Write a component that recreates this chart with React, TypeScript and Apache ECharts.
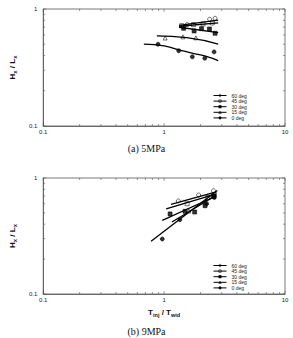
import React, { useEffect, useRef } from "react";
import * as echarts from "echarts";

const NAMES = ["60 deg", "45 deg", "30 deg", "15 deg", "0 deg"];
const SYMBOLS = ["circle", "rect", "rect", "triangle", "circle"];
const HOLLOW = [true, true, false, true, false];

// (a) 5MPa — fitted curves
const aFit60 = [[1.33, 0.725], [2.8, 0.805]];
const aFit45 = [[1.33, 0.712], [2.8, 0.76]];
const aFit30 = [[1.33, 0.698], [2.8, 0.628]];
const aFit15 = [[0.87, 0.59], [1.54, 0.569], [2.8, 0.502]];
const aFit0 = [[0.68, 0.5], [1.0, 0.483], [1.33, 0.448], [1.7, 0.42], [2.2, 0.395], [2.8, 0.362]];
// (a) 5MPa — measured points
const aPts60 = [[1.55, 0.735], [2.38, 0.817], [2.64, 0.833]];
const aPts45 = [[1.4, 0.72], [1.75, 0.735], [2.1, 0.745], [2.5, 0.76]];
const aPts30 = [[1.45, 0.684], [1.77, 0.649], [2.04, 0.679], [2.37, 0.675], [2.64, 0.62]];
const aPts15 = [[1.02, 0.565], [1.43, 0.578], [1.83, 0.567]];
const aPts0 = [[0.89, 0.5], [1.32, 0.44], [1.71, 0.39], [2.17, 0.38], [2.59, 0.43]];

// (b) 9MPa — fitted curves
const bFit60 = [[1.14, 0.592], [2.7, 0.76]];
const bFit45 = [[1.04, 0.543], [2.7, 0.73]];
const bFit30 = [[0.965, 0.431], [2.7, 0.7]];
const bFit15 = [[1.16, 0.418], [2.7, 0.71]];
const bFit0 = [[0.78, 0.285], [2.75, 0.78]];
// (b) 9MPa — measured points
const bPts60 = [[1.31, 0.634], [1.93, 0.714], [2.56, 0.777]];
const bPts45 = [[1.55, 0.6], [2.3, 0.68], [2.6, 0.72]];
const bPts30 = [[1.12, 0.49], [1.49, 0.516], [1.79, 0.509], [2.18, 0.577], [2.56, 0.694]];
const bPts15 = [[1.6, 0.52], [2.2, 0.62], [2.6, 0.7]];
const bPts0 = [[0.965, 0.298], [1.35, 0.437], [2.25, 0.6], [2.6, 0.68]];

const X_MINOR = [0.2, 0.3, 0.4, 0.5, 0.6, 0.7, 0.8, 0.9, 2, 3, 4, 5, 6, 7, 8, 9];
const X_MAJOR = [0.1, 1, 10];
const Y_MINOR = [0.2, 0.3, 0.4, 0.5, 0.6, 0.7, 0.8, 0.9];
const Y_MAJOR = [0.1, 1];

const FONT = "Liberation Sans";

export default function App() {
  const ref = useRef<HTMLDivElement>(null);
  useEffect(() => {
    const chart = echarts.init(ref.current!, null, { renderer: "svg" });

    const fits = [
      [aFit60, aFit45, aFit30, aFit15, aFit0],
      [bFit60, bFit45, bFit30, bFit15, bFit0],
    ];
    const pts = [
      [aPts60, aPts45, aPts30, aPts15, aPts0],
      [bPts60, bPts45, bPts30, bPts15, bPts0],
    ];

    const series: any[] = [];
    [0, 1].forEach((g) => {
      NAMES.forEach((name, i) => {
        const mstyle = {
          color: HOLLOW[i] ? "rgba(255,255,255,0)" : "#000",
          borderColor: "#000",
          borderWidth: 0.7,
        };
        series.push({
          type: "line",
          name,
          xAxisIndex: g,
          yAxisIndex: g,
          data: fits[g][i],
          smooth: true,
          symbol: SYMBOLS[i],
          symbolSize: 3,
          showSymbol: false,
          lineStyle: { color: "#000", width: 1.3 },
          itemStyle: mstyle,
          z: 3,
        });
        series.push({
          type: "scatter",
          name,
          xAxisIndex: g,
          yAxisIndex: g,
          data: pts[g][i],
          symbol: SYMBOLS[i],
          symbolSize: 4,
          itemStyle: mstyle,
          z: 4,
        });
      });
      series.push({
        type: "custom",
        name: "xticks" + g,
        xAxisIndex: g,
        yAxisIndex: g,
        silent: true,
        clip: false,
        data: [...X_MINOR.map((v) => [v, 0.5, 0]), ...X_MAJOR.map((v) => [v, 0.5, 1])],
        renderItem: (params: any, api: any) => {
          const v = api.value(0);
          const major = api.value(2) === 1;
          const b = api.coord([v, 0.1]);
          const t = api.coord([v, 1]);
          const len = major ? 3 : 2;
          const st = { stroke: "#555", lineWidth: 0.6 };
          return {
            type: "group",
            children: [
              { type: "line", shape: { x1: b[0], y1: b[1], x2: b[0], y2: b[1] - len }, style: st },
              { type: "line", shape: { x1: t[0], y1: t[1], x2: t[0], y2: t[1] + len }, style: st },
            ],
          };
        },
      });
      series.push({
        type: "custom",
        name: "yticks" + g,
        xAxisIndex: g,
        yAxisIndex: g,
        silent: true,
        clip: false,
        data: [...Y_MINOR.map((v) => [1, v, 0]), ...Y_MAJOR.map((v) => [1, v, 1])],
        renderItem: (params: any, api: any) => {
          const v = api.value(1);
          const major = api.value(2) === 1;
          const l = api.coord([0.1, v]);
          const r = api.coord([10, v]);
          const len = major ? 3 : 2;
          const st = { stroke: "#555", lineWidth: 0.6 };
          return {
            type: "group",
            children: [
              { type: "line", shape: { x1: l[0], y1: l[1], x2: l[0] + len, y2: l[1] }, style: st },
              { type: "line", shape: { x1: r[0], y1: r[1], x2: r[0] - len, y2: r[1] }, style: st },
            ],
          };
        },
      });
    });

    const xAxisBase = {
      type: "log",
      logBase: 10,
      min: 0.1,
      max: 10,
      axisLine: { show: true, lineStyle: { color: "#555", width: 0.8 } },
      axisTick: { show: false },
      splitLine: { show: false },
      axisLabel: { fontSize: 6, fontFamily: FONT, color: "#222", margin: 3 },
    };
    const yAxisBase = {
      type: "log",
      logBase: 10,
      min: 0.1,
      max: 1,
      axisLine: { show: true, lineStyle: { color: "#555", width: 0.8 } },
      axisTick: { show: false },
      splitLine: { show: false },
      axisLabel: { fontSize: 6, fontFamily: FONT, color: "#222", margin: 6 },
      name: "{b|H}{s|x}{b| / L}{s|x}",
      nameLocation: "middle",
      nameGap: 19,
      nameRotate: 90,
      nameTextStyle: {
        rich: {
          b: { fontSize: 8, fontWeight: "bold", fontFamily: FONT, color: "#111", lineHeight: 12, verticalAlign: "middle" },
          s: { fontSize: 6, fontWeight: "bold", fontFamily: FONT, color: "#111", lineHeight: 12, verticalAlign: "bottom", padding: [4, 0, 0, 0] },
        },
      },
    };

    const legendBase = {
      orient: "vertical",
      left: 213,
      itemWidth: 13,
      itemHeight: 3,
      itemGap: 0.6,
      padding: 0,
      lineStyle: { width: 1 },
      itemStyle: { borderWidth: 0.6 },
      textStyle: { fontSize: 5, fontFamily: FONT, color: "#222", lineHeight: 5 },
      data: NAMES,
      selectedMode: false,
    };

    chart.setOption({
      animation: false,
      backgroundColor: "#fff",
      grid: [
        { left: 28, top: 9, width: 257, height: 117, show: true, borderColor: "#555", borderWidth: 0.8, backgroundColor: "transparent" },
        { left: 28, top: 178, width: 257, height: 116, show: true, borderColor: "#555", borderWidth: 0.8, backgroundColor: "transparent" },
      ],
      xAxis: [
        { ...xAxisBase, gridIndex: 0 },
        {
          ...xAxisBase,
          gridIndex: 1,
          name: "{b|T}{s|inj}{b| / T}{s|wid}",
          nameLocation: "middle",
          nameGap: 12,
          nameTextStyle: {
            rich: {
              b: { fontSize: 8, fontWeight: "bold", fontFamily: FONT, color: "#111", lineHeight: 12, verticalAlign: "middle" },
              s: { fontSize: 5.5, fontWeight: "bold", fontFamily: FONT, color: "#111", lineHeight: 12, verticalAlign: "bottom", padding: [4, 0, 0, 0] },
            },
          },
        },
      ],
      yAxis: [
        { ...yAxisBase, gridIndex: 0 },
        { ...yAxisBase, gridIndex: 1 },
      ],
      legend: [
        { ...legendBase, top: 93 },
        { ...legendBase, top: 263 },
      ],
      graphic: [
        { type: "text", left: "center", top: 143, style: { text: "(a) 5MPa", font: '10px "Liberation Serif"', fill: "#111" } },
        { type: "text", left: "center", top: 326, style: { text: "(b) 9MPa", font: '10px "Liberation Serif"', fill: "#111" } },
      ],
      series,
    });
    return () => chart.dispose();
  }, []);
  return <div ref={ref} style={{ width: 293, height: 338, position: "absolute", left: 0, top: 0 }} />;
}
